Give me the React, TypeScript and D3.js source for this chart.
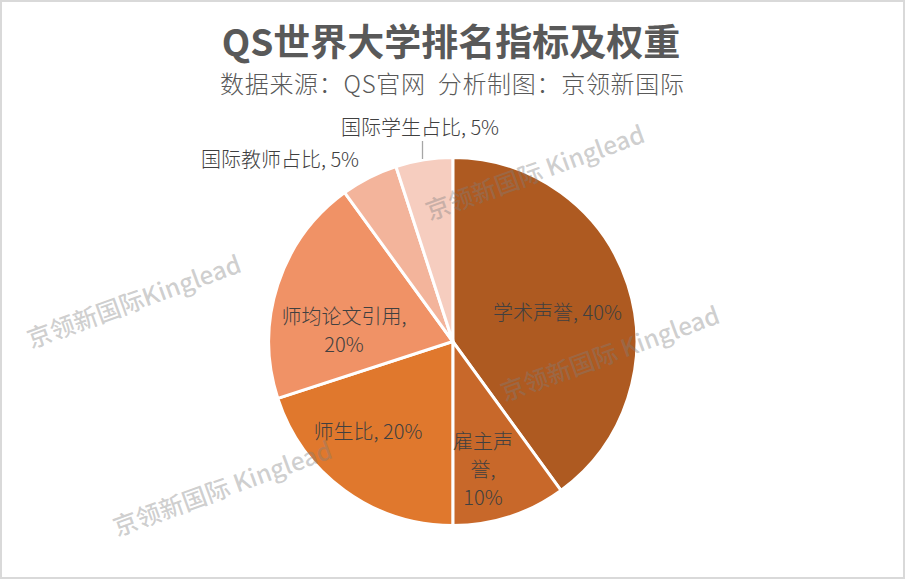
import React from "react";
import * as d3 from "d3";

const categories = ["学术声誉", "雇主声誉", "师生比", "师均论文引用", "国际教师占比", "国际学生占比"];
const weights = [40, 10, 20, 20, 5, 5];
const colors = ["#ae5a21", "#c8682a", "#e0782d", "#f09266", "#f3b49b", "#f6cdbf"];
const labelLines = [
  ["学术声誉, 40%"],
  ["雇主声", "誉,", "10%"],
  ["师生比, 20%"],
  ["师均论文引用,", "20%"],
  ["国际教师占比, 5%"],
  ["国际学生占比, 5%"],
];
const labelPos: [number, number][] = [
  [557.5, 320],
  [483, 449],
  [368, 439],
  [344, 324],
  [280, 167],
  [420, 135],
];
const watermarks = [
  { text: "京领新国际 Kinglead", x: 538, y: 181 },
  { text: "京领新国际Kinglead", x: 137, y: 310 },
  { text: "京领新国际 Kinglead", x: 613, y: 362 },
  { text: "京领新国际 Kinglead", x: 225.5, y: 497 },
];
const W = 905;
const H = 579;
const FONT = "'Noto Sans CJK SC', 'Noto Sans', sans-serif";

export default function App() {
  const cx = 452.8;
  const cy = 341.5;
  const r = 184;
  const pie = d3.pie<number>().sort(null)(weights);
  const arc = d3.arc<d3.PieArcDatum<number>>().innerRadius(0).outerRadius(r);
  return (
    <svg
      width={W}
      height={H}
      style={{ position: "absolute", left: 0, top: 0, display: "block", fontFamily: FONT }}
    >
      <rect x={1} y={1} width={W - 2} height={H - 2} fill="#fff" stroke="#d9d9d9" strokeWidth={2} />
      <text x={451} y={56} textAnchor="middle" fontSize={37} fontWeight={700} fill="#595959">
        QS世界大学排名指标及权重
      </text>
      <text
        x={452}
        y={93}
        textAnchor="middle"
        fontSize={24}
        fill="#595959"
        fontWeight={300}
        textLength={464}
        lengthAdjust="spacing"
        style={{ whiteSpace: "pre", textSpacingTrim: "space-all" } as React.CSSProperties}
      >
        {"数据来源：QS官网  分析制图：京领新国际"}
      </text>
      <g transform={`translate(${cx},${cy})`}>
        {pie.map((d, i) => (
          <path key={categories[i]} d={arc(d) ?? ""} fill={colors[i]} stroke="#fff" strokeWidth={3} />
        ))}
      </g>
      <line x1={422.5} x2={422.5} y1={141} y2={159} stroke="#a6a6a6" strokeWidth={1.3} />
      {labelLines.map((lines, i) => (
        <text key={categories[i]} textAnchor="middle" fontSize={20} fontWeight={300} fill="#404040">
          {lines.map((l, j) => (
            <tspan key={j} x={labelPos[i][0]} y={labelPos[i][1] + j * 28}>
              {l}
            </tspan>
          ))}
        </text>
      ))}
      {watermarks.map((w, i) => (
        <text
          key={i}
          transform={`translate(${w.x},${w.y}) rotate(-20)`}
          textAnchor="middle"
          fontSize={24.5}
          fontWeight={500}
          fill="#7f7f7f"
          fillOpacity={0.38}
        >
          {w.text}
        </text>
      ))}
    </svg>
  );
}
